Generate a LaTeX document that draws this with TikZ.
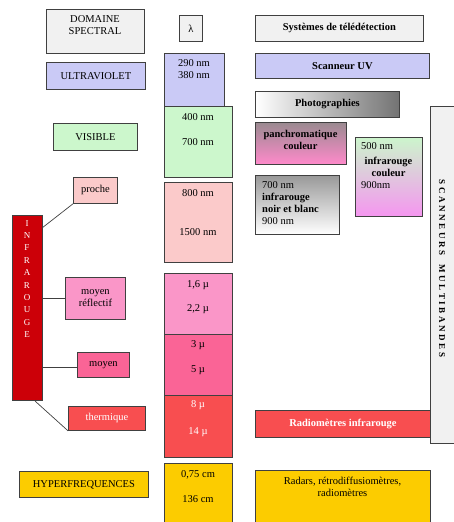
\documentclass[tikz,border=0pt]{standalone}
\usepackage{fontspec}
\setmainfont{Liberation Serif}
\usetikzlibrary{positioning}
\definecolor{bord}{HTML}{404040}
\definecolor{marble}{HTML}{F1F1F1}
\definecolor{uvc}{HTML}{CACAF6}
\definecolor{visc}{HTML}{CCF7CC}
\definecolor{proc}{HTML}{FBCACA}
\definecolor{refc}{HTML}{FA96C8}
\definecolor{moyc}{HTML}{FA6496}
\definecolor{therc}{HTML}{F84E50}
\definecolor{hypc}{HTML}{FCCC00}
\definecolor{irc}{HTML}{CC0008}
\definecolor{pantop}{HTML}{9A8A90}
\definecolor{panbot}{HTML}{FF8ACB}
\definecolor{irctop}{HTML}{CCF5CC}
\definecolor{ircbot}{HTML}{F596F0}
\newcommand{\sfs}{\fontsize{10.5}{12}\selectfont}
\newcommand{\ls}{\hspace{2.6pt}}
\begin{document}
\begin{tikzpicture}[x=1pt,y=-1pt,
  box/.style={draw=bord,line width=0.8pt,anchor=north west,inner sep=0pt,font=\sfs,align=center},
  txt/.style={inner sep=0pt,font=\sfs,align=center},
  link/.style={draw=bord,line width=0.7pt}]
\useasboundingbox (0,0) rectangle (453,522);
% left column
\node[box,fill=marble,minimum width=98pt,minimum height=44pt] (dom) at (46,9) {};
\node[txt] at (95,25.5) {DOMAINE\\SPECTRAL};
\node[box,fill=uvc,minimum width=99pt,minimum height=27pt] (uv) at (46,62) {ULTRAVIOLET};
\node[box,fill=visc,minimum width=84pt,minimum height=27pt] (vis) at (53,123) {VISIBLE};
\node[box,fill=proc,minimum width=44pt,minimum height=26pt] (proche) at (73,177) {proche};
\node[box,fill=irc,minimum width=30pt,minimum height=185pt] (ir) at (12,215) {};
\node[txt,text=white,anchor=north,font=\fontsize{9}{12.4}\selectfont] (irt) at (27,220) {I\\N\\F\\R\\A\\R\\O\\U\\G\\E};
\node[box,fill=refc,minimum width=60pt,minimum height=42pt] (refl) at (65,277) {moyen\\réflectif};
\node[box,fill=moyc,minimum width=52pt,minimum height=25pt] (moyen) at (77,352) {moyen};
\node[box,fill=therc,text=white,minimum width=77pt,minimum height=24pt] (therm) at (68,406) {thermique};
\node[box,fill=hypc,minimum width=129pt,minimum height=26pt] (hyp) at (19,471) {HYPERFREQUENCES};
% connectors
\coordinate (irA) at (42,228);
\coordinate (irB) at (42,298);
\coordinate (irC) at (42,367);
\coordinate (irD) at (35,401);
\draw[link] (irA) -- (proche.south west);
\draw[link] (irB) -- (refl.west |- irB);
\draw[link] (irC) -- (moyen.west |- irC);
\draw[link] (irD) -- (therm.south west);
% wavelength column
\node[box,fill=marble,minimum width=23pt,minimum height=26pt] (lam) at (179,15) {λ};
\node[box,fill=uvc,minimum width=60pt,minimum height=53pt] (wuv) at (164,53) {};
\node[txt] at (194,69.5) {290 nm\\380 nm};
\node[box,fill=visc,minimum width=68pt,minimum height=71pt] (wvis) at (164,106) {};
\node[txt] at (198,117) {400 nm};
\node[txt] at (198,142) {700 nm};
\node[box,fill=proc,minimum width=68pt,minimum height=80pt] (wpro) at (164,182) {};
\node[txt] at (198,193) {800 nm};
\node[txt] at (198,232) {1500 nm};
\node[box,fill=refc,minimum width=68pt,minimum height=61pt] (wref) at (164,273) {};
\node[txt] at (198,285) {1,6 µ};
\node[txt] at (198,309) {2,2 µ};
\node[box,fill=moyc,minimum width=68pt,minimum height=61pt] (wmoy) at (164,334) {};
\node[txt] at (198,345) {3 µ};
\node[txt] at (198,370) {5 µ};
\node[box,fill=therc,minimum width=68pt,minimum height=62pt] (wthe) at (164,395) {};
\node[txt,text=white] at (198,405) {8 µ};
\node[txt,text=white] at (198,432) {14 µ};
\node[box,fill=hypc,minimum width=68pt,minimum height=62pt] (whyp) at (164,463) {};
\node[txt] at (198,475) {0,75 cm};
\node[txt] at (198,499) {136 cm};
% right column
\node[box,fill=marble,minimum width=168pt,minimum height=26pt,font=\sfs\bfseries] (sys) at (255,15) {Systèmes de télédétection};
\node[box,fill=uvc,minimum width=174pt,minimum height=25pt,font=\sfs\bfseries] (suv) at (255,53) {Scanneur UV};
\node[box,left color=white,right color=black!55,minimum width=144pt,minimum height=26pt,font=\sfs\bfseries] (photo) at (255,91) {Photographies};
\node[box,top color=pantop,bottom color=panbot,minimum width=91pt,minimum height=42pt] (pan) at (255,122) {};
\node[txt,font=\sfs\bfseries] at (300.5,139.5) {panchromatique\\couleur};
\node[box,top color=irctop,bottom color=ircbot,minimum width=67pt,minimum height=79pt] (ircol) at (355,137) {};
\node[txt,anchor=west] at (361,146) {500 nm};
\node[txt,font=\sfs\bfseries] at (388.5,166.5) {infrarouge\\couleur};
\node[txt,anchor=west] at (361,185) {900nm};
\node[box,top color=black!40,bottom color=white,minimum width=84pt,minimum height=59pt] (irnb) at (255,175) {};
\node[txt,anchor=north west,align=left] at (262,181) {700 nm\\\textbf{infrarouge}\\\textbf{noir et blanc}\\900 nm};
\fill[marble] (430,106) rectangle (454,443);
\draw[bord,line width=0.8pt] (454,106) -- (430,106) -- (430,443) -- (454,443);
\node[txt,rotate=-90,font=\fontsize{9}{10}\selectfont\bfseries] (scan) at (442,268.5) {S\ls C\ls A\ls N\ls N\ls E\ls U\ls R\ls S\hspace{9pt}M\ls U\ls L\ls T\ls I\ls B\ls A\ls N\ls D\ls E\ls S};
\node[box,fill=therc,text=white,minimum width=175pt,minimum height=27pt,font=\sfs\bfseries] (radio) at (255,410) {Radiomètres infrarouge};
\node[box,fill=hypc,minimum width=175pt,minimum height=53pt] (radar) at (255,470) {};
\node[txt] at (342.5,487) {Radars, rétrodiffusiomètres,\\radiomètres};
\end{tikzpicture}
\end{document}
